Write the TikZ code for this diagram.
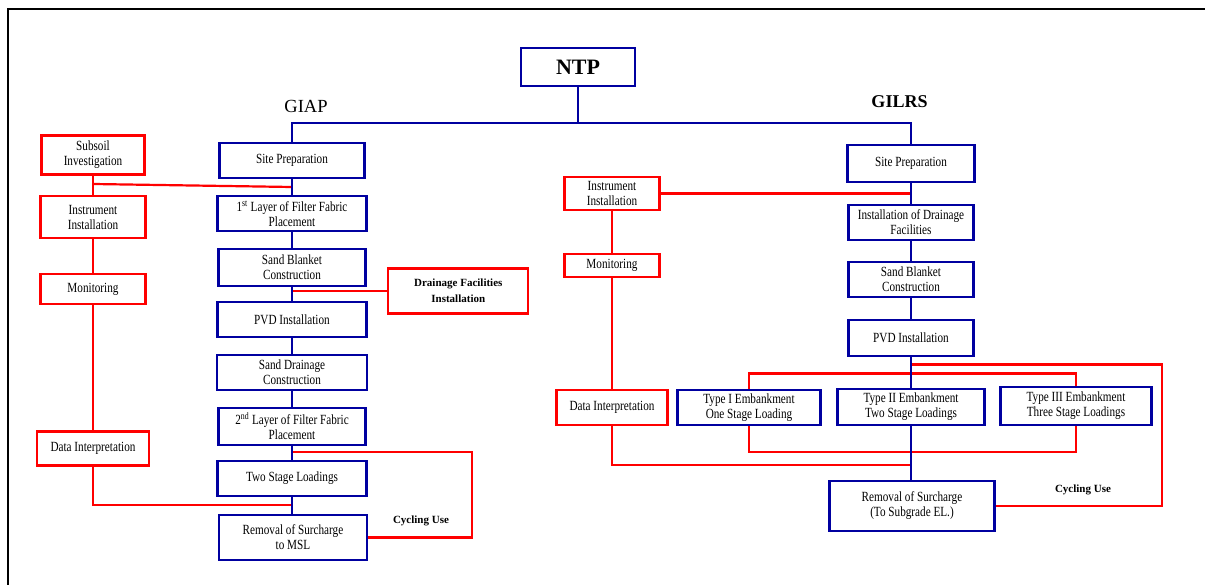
\documentclass[tikz,border=0pt]{standalone}
\usepackage{fontspec}
\setmainfont{Liberation Serif}[FakeStretch=0.8]
\newfontfamily\headfont{Liberation Serif}
\usepackage{tikz}

\definecolor{navy}{RGB}{0,0,160}
\definecolor{linkred}{RGB}{255,0,0}

\begin{document}
\begin{tikzpicture}[x=1pt, y=-1pt,
	bluebox/.style={draw=navy, line width=2.2pt, align=center, inner sep=0pt, font=\fontsize{14}{15}\selectfont},
	redbox/.style={draw=linkred, line width=2.2pt, align=center, inner sep=0pt, font=\fontsize{14}{15}\selectfont},
	blueline/.style={draw=navy, line width=2.2pt},
	redline/.style={draw=linkred, line width=2.2pt},
	boldlabel/.style={font=\headfont\bfseries\fontsize{11}{16}\selectfont, align=center}]
	\useasboundingbox (0,0) rectangle (1205,585);
	\draw[line width=1.8pt] (8,585) -- (8,9) -- (1205,9);
	% top
	\node (ntp) at (578,67.2) [draw=navy, line width=2.2pt, minimum width=114pt, minimum height=38pt, font=\headfont\bfseries\fontsize{22}{24}\selectfont] {NTP};
	\node (giap) at (306,106) [font=\headfont\fontsize{18.5}{20}\selectfont] {GIAP};
	\node (gilrs) at (899.5,101.7) [font=\headfont\bfseries\fontsize{18}{20}\selectfont] {GILRS};
	% GIAP side
	\node[bluebox] (gsite) at (292,160.5) [minimum width=145pt, minimum height=35pt] {Site Preparation};
	\node[bluebox] (glayerA) at (292,213.5) [minimum width=149pt, minimum height=35pt] {1\textsuperscript{st} Layer of Filter Fabric\\Placement};
	\node[bluebox] (gblanket) at (292,267.5) [minimum width=147pt, minimum height=37pt] {Sand Blanket\\Construction};
	\node[bluebox] (gpvd) at (292,319.5) [minimum width=149pt, minimum height=35pt] {PVD Installation};
	\node[bluebox] (gdrain) at (292,372.5) [minimum width=150pt, minimum height=35pt] {Sand Drainage\\Construction};
	\node[bluebox] (glayerB) at (292,426.5) [minimum width=147pt, minimum height=37pt] {2\textsuperscript{nd} Layer of Filter Fabric\\Placement};
	\node[bluebox] (gload) at (292,478.5) [minimum width=149pt, minimum height=35pt] {Two Stage Loadings};
	\node[bluebox] (gremove) at (293,537.5) [minimum width=148pt, minimum height=45pt] {Removal of Surcharge\\to MSL};
		\node[redbox] (lsubsoil) at (93,155) [minimum width=103pt, minimum height=39pt] {Subsoil\\Investigation};
		\node[redbox] (linstr) at (93,217) [minimum width=105pt, minimum height=42pt] {Instrument\\Installation};
		\node[redbox] (lmonitor) at (93,289) [minimum width=105pt, minimum height=30pt] {Monitoring};
		\node[redbox] (ldata) at (93,448.5) [minimum width=112pt, minimum height=34pt] {Data Interpretation};
		\node[redbox] (ldrainage) at (458.3,291) [minimum width=140pt, minimum height=45pt, boldlabel] {Drainage Facilities\\Installation};
		\node[boldlabel] (cycleL) at (421,521) {Cycling Use};
	% GILRS side
	\node[bluebox] (rsite) at (911,163.3) [minimum width=127pt, minimum height=37pt] {Site Preparation};
	\node[bluebox] (rdrain) at (911,222.5) [minimum width=125pt, minimum height=35pt] {Installation of Drainage\\Facilities};
	\node[bluebox] (rblanket) at (911,279.5) [minimum width=125pt, minimum height=35pt] {Sand Blanket\\Construction};
	\node[bluebox] (rpvd) at (911,338) [minimum width=125pt, minimum height=36pt] {PVD Installation};
	\node[bluebox] (rtypeA) at (749,407.5) [minimum width=143pt, minimum height=35pt] {Type I Embankment\\One Stage Loading};
	\node[bluebox] (rtypeB) at (911,407) [minimum width=147pt, minimum height=36pt] {Type II Embankment\\Two Stage Loadings};
	\node[bluebox] (rtypeC) at (1076,406) [minimum width=151pt, minimum height=38pt] {Type III Embankment\\Three Stage Loadings};
	\node[bluebox] (rremove) at (912,506) [minimum width=165pt, minimum height=50pt] {Removal of Surcharge\\(To Subgrade EL.)};
		\node[redbox] (rinstr) at (612,193.5) [minimum width=95pt, minimum height=33pt] {Instrument\\Installation};
		\node[redbox] (rmonitor) at (612,265.5) [minimum width=95pt, minimum height=23pt] {Monitoring};
		\node[redbox] (rdata) at (612,407.5) [minimum width=111pt, minimum height=35pt] {Data Interpretation};
		\node[boldlabel] (cycleR) at (1083,490) {Cycling Use};
	% junctions
	\coordinate (ntpFoot) at (578,123);
	\coordinate (giapTop) at (292,123);
	\coordinate (gilrsTop) at (911,123);
	\coordinate (subJoin) at (93,184);
	\coordinate (gJoinA) at (292,187);
	\coordinate (gJoinB) at (292,291);
	\coordinate (gJoinC) at (292,452);
	\coordinate (gJoinD) at (292,505);
	\coordinate (cycleLeft) at (472,452);
	\coordinate (rJoinA) at (911,193.5);
	\coordinate (rJoinB) at (911,465);
	\coordinate (rJoinC) at (911,364.5);
	\coordinate (cycleRight) at (1162,364.5);
	\coordinate (bracketTopA) at (749,373.5);
	\coordinate (bracketTopC) at (1076,373.5);
	\coordinate (bracketBotA) at (749,452);
	\coordinate (bracketBotC) at (1076,452);
	% red links
	\draw[redline] (lsubsoil) to (linstr);
	\draw[redline] (linstr) to (lmonitor);
	\draw[redline] (lmonitor) to (ldata);
	\draw[redline] (subJoin) to (gJoinA);
	\draw[redline] (gJoinB) to (ldrainage);
	\draw[redline] (ldata) |- (gJoinD);
	\draw[redline] (gJoinC) -- (cycleLeft) |- (gremove);
	\draw[redline] (rinstr) to (rJoinA);
	\draw[redline] (rinstr) to (rmonitor);
	\draw[redline] (rmonitor) to (rdata);
	\draw[redline] (rdata) |- (rJoinB);
	\draw[redline] (rJoinC) -- (cycleRight) |- (rremove);
	\draw[redline] (rtypeA) -- (bracketTopA) -- (bracketTopC) -- (rtypeC);
	\draw[redline] (rtypeA) -- (bracketBotA) -- (bracketBotC) -- (rtypeC);
	% blue links
	\draw[blueline] (ntp) to (ntpFoot);
	\draw[blueline] (gsite) -- (giapTop) -- (gilrsTop) -- (rsite);
	\draw[blueline] (gsite) to (glayerA);
	\draw[blueline] (glayerA) to (gblanket);
	\draw[blueline] (gblanket) to (gpvd);
	\draw[blueline] (gpvd) to (gdrain);
	\draw[blueline] (gdrain) to (glayerB);
	\draw[blueline] (glayerB) to (gload);
	\draw[blueline] (gload.south) to (gload.south |- gremove.north);
	\draw[blueline] (rsite) to (rdrain);
	\draw[blueline] (rdrain) to (rblanket);
	\draw[blueline] (rblanket) to (rpvd);
	\draw[blueline] (rpvd) to (rtypeB);
	\draw[blueline] (rtypeB.south) to (rtypeB.south |- rremove.north);
\end{tikzpicture}
\end{document}
